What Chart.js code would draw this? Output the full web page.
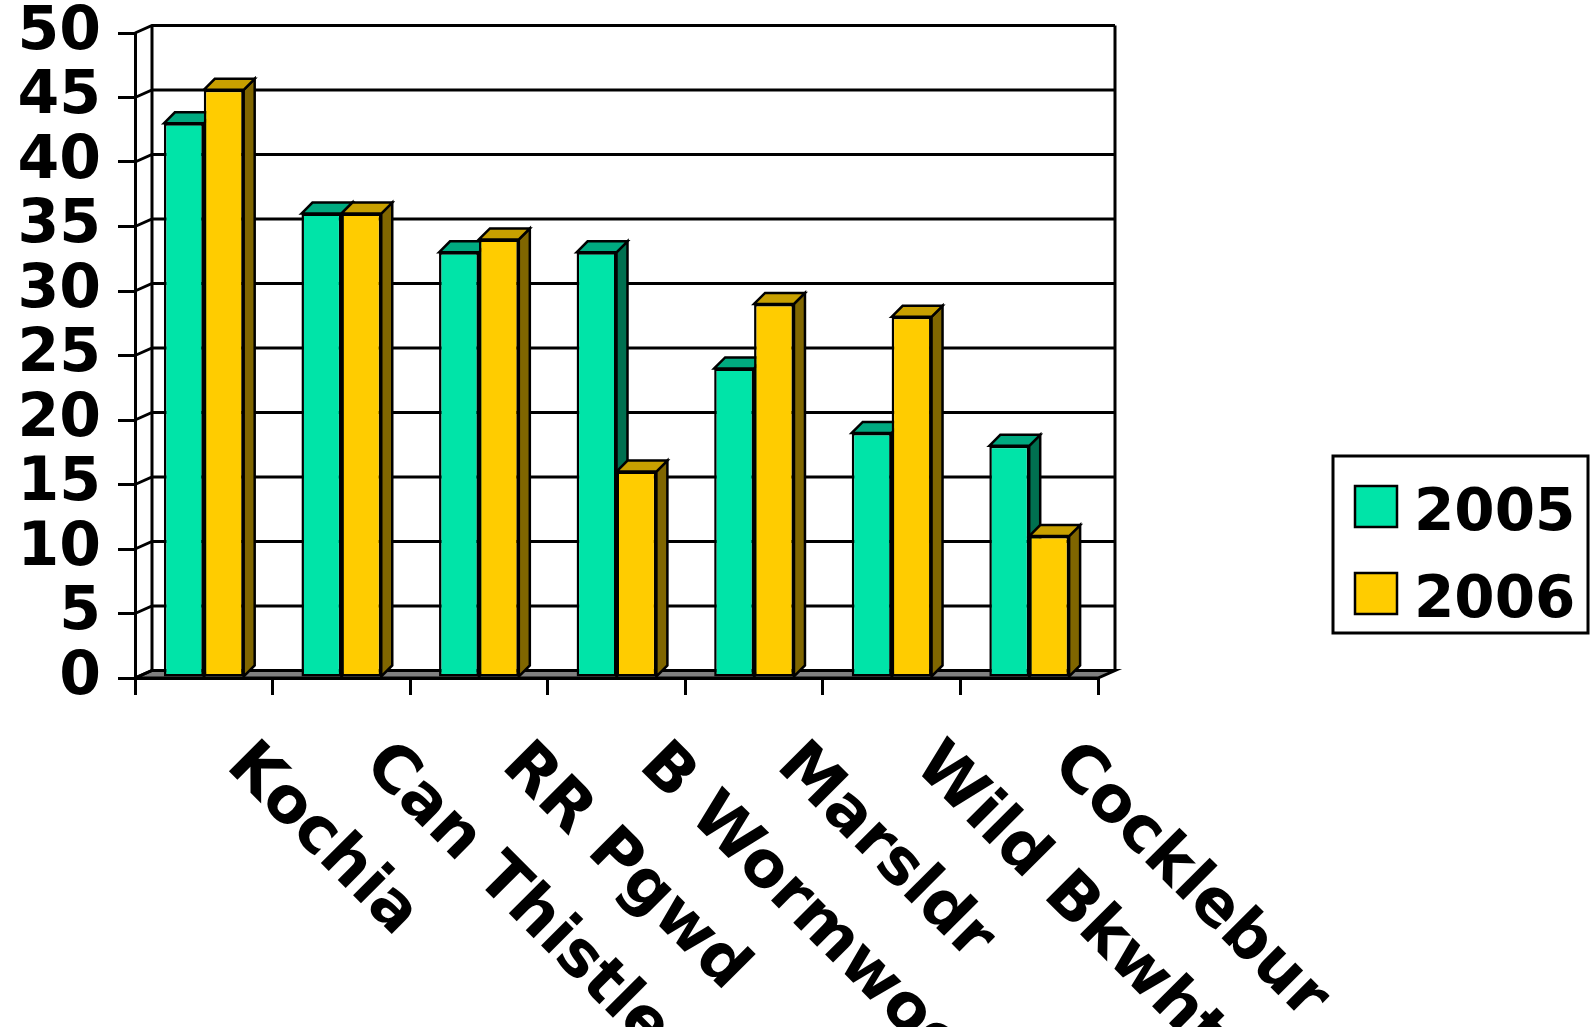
<!DOCTYPE html>
<html><head><meta charset="utf-8">
<script src="https://cdn.jsdelivr.net/npm/chart.js@4.4.0/dist/chart.umd.min.js"></script>
<style>html,body{margin:0;padding:0;background:#fff;overflow:hidden}canvas{display:block}</style>
</head><body>
<canvas id="c" width="1592" height="1027"></canvas>
<script>
const categories = ['Kochia', 'Can Thistle', 'RR Pgwd', 'B Wormwood', 'Marsldr', 'Wild Bkwht', 'Cocklebur'];
const values2005 = [43, 36, 33, 33, 24, 19, 18];
const values2006 = [45.6, 36, 34, 16, 29, 28, 11];
const seriesLabels = ['2005', '2006'];
const yMin = 0, yMax = 50, yStep = 5;

const FRONT = ['#00E4A8', '#FFCC00'];
const TOP = ['#00AA80', '#C8A000'];
const SIDE = ['#007050', '#806600'];
const WALL_DX = 17, WALL_DY = 7.5, BAR_D = 11;
const FONT = '"DejaVu Sans", Verdana, sans-serif';
const LW = 3;

const threeD = {
  id: 'threeD',
  beforeDatasetsDraw(chart) {
    const ctx = chart.ctx, ca = chart.chartArea, ys = chart.scales.y;
    ctx.save();
    ctx.lineWidth = LW; ctx.strokeStyle = '#000'; ctx.lineJoin = 'miter';
    // floor
    ctx.beginPath();
    ctx.moveTo(ca.left, ca.bottom); ctx.lineTo(ca.right, ca.bottom);
    ctx.lineTo(ca.right + WALL_DX, ca.bottom - WALL_DY); ctx.lineTo(ca.left + WALL_DX, ca.bottom - WALL_DY);
    ctx.closePath();
    ctx.fillStyle = '#808080'; ctx.fill(); ctx.stroke();
    // back wall gridlines with diagonal connectors
    ys.ticks.forEach(t => {
      const py = ys.getPixelForValue(t.value);
      ctx.beginPath();
      ctx.moveTo(ca.left, py);
      ctx.lineTo(ca.left + WALL_DX, py - WALL_DY);
      ctx.lineTo(ca.right + WALL_DX, py - WALL_DY);
      ctx.stroke();
    });
    // wall edges
    ctx.beginPath();
    ctx.moveTo(ca.left + WALL_DX, ca.top - WALL_DY); ctx.lineTo(ca.left + WALL_DX, ca.bottom - WALL_DY);
    ctx.moveTo(ca.right + WALL_DX, ca.top - WALL_DY); ctx.lineTo(ca.right + WALL_DX, ca.bottom - WALL_DY);
    ctx.stroke();
    // bar side & top faces
    ctx.lineWidth = 2.5;
    const n = chart.data.labels.length;
    for (let i = 0; i < n; i++) {
      chart.data.datasets.forEach((ds, d) => {
        const el = chart.getDatasetMeta(d).data[i];
        if (!el) return;
        const p = el.getProps(['x', 'y', 'base', 'width'], true);
        const l = p.x - p.width / 2, r = p.x + p.width / 2, t = p.y, b = p.base;
        ctx.beginPath();
        ctx.moveTo(r, t); ctx.lineTo(r + BAR_D, t - BAR_D); ctx.lineTo(r + BAR_D, b - BAR_D); ctx.lineTo(r, b);
        ctx.closePath();
        ctx.fillStyle = SIDE[d]; ctx.fill(); ctx.stroke();
        ctx.beginPath();
        ctx.moveTo(l, t); ctx.lineTo(l + BAR_D, t - BAR_D); ctx.lineTo(r + BAR_D, t - BAR_D); ctx.lineTo(r, t);
        ctx.closePath();
        ctx.fillStyle = TOP[d]; ctx.fill(); ctx.stroke();
      });
    }
    ctx.restore();
  },
  afterDraw(chart) {
    const ctx = chart.ctx, xs = chart.scales.x;
    ctx.save();
    // rotated category labels
    ctx.font = 'bold 64px ' + FONT;
    ctx.fillStyle = '#000'; ctx.textAlign = 'left'; ctx.textBaseline = 'alphabetic';
    chart.data.labels.forEach((lab, i) => {
      const px = xs.getPixelForValue(i);
      ctx.save();
      ctx.translate(px + 21, 767);
      ctx.rotate(Math.PI / 4);
      ctx.fillText(lab, 0, 0);
      ctx.restore();
    });
    // legend
    ctx.lineWidth = LW; ctx.strokeStyle = '#000';
    ctx.fillStyle = '#fff';
    ctx.fillRect(1333, 456, 255, 177);
    ctx.strokeRect(1333, 456, 255, 177);
    ctx.font = 'bold 58px ' + FONT;
    chart.data.datasets.forEach((ds, d) => {
      const sy = 486 + d * 87;
      ctx.fillStyle = FRONT[d];
      ctx.fillRect(1355, sy, 42, 41);
      ctx.lineWidth = 2.5;
      ctx.strokeRect(1355, sy, 42, 41);
      ctx.fillStyle = '#000';
      ctx.fillText(ds.label, 1414, sy + 44);
    });
    ctx.restore();
  }
};

new Chart(document.getElementById('c'), {
  type: 'bar',
  data: {
    labels: categories,
    datasets: [
      { label: seriesLabels[0], data: values2005, backgroundColor: FRONT[0], borderColor: '#000', borderWidth: 2.5, borderSkipped: false },
      { label: seriesLabels[1], data: values2006, backgroundColor: FRONT[1], borderColor: '#000', borderWidth: 2.5, borderSkipped: false }
    ]
  },
  options: {
    responsive: false,
    devicePixelRatio: 1,
    animation: false,
    layout: { padding: { left: 0, top: 33, right: 494, bottom: 0 } },
    datasets: { bar: { categoryPercentage: 0.58, barPercentage: 1.0 } },
    plugins: { legend: { display: false }, tooltip: { enabled: false } },
    scales: {
      x: {
        offset: true,
        grid: { display: true, offset: true, drawOnChartArea: false, drawTicks: true, tickLength: 17, color: '#000', lineWidth: LW },
        border: { display: true, color: '#000', width: LW },
        ticks: { display: false },
        afterFit(scale) { scale.height = 1027 - 678; scale.paddingLeft = 0; scale.paddingRight = 0; }
      },
      y: {
        min: yMin, max: yMax,
        ticks: { stepSize: yStep, autoSkip: false, color: '#000', padding: 17, font: { family: FONT, weight: 'bold', size: 60 } },
        grid: { drawOnChartArea: false, drawTicks: true, tickLength: 17, color: '#000', lineWidth: LW },
        border: { display: true, color: '#000', width: LW },
        afterFit(scale) { scale.width = 135; scale.paddingTop = 0; scale.paddingBottom = 0; }
      }
    }
  },
  plugins: [threeD]
});
</script>
</body></html>
